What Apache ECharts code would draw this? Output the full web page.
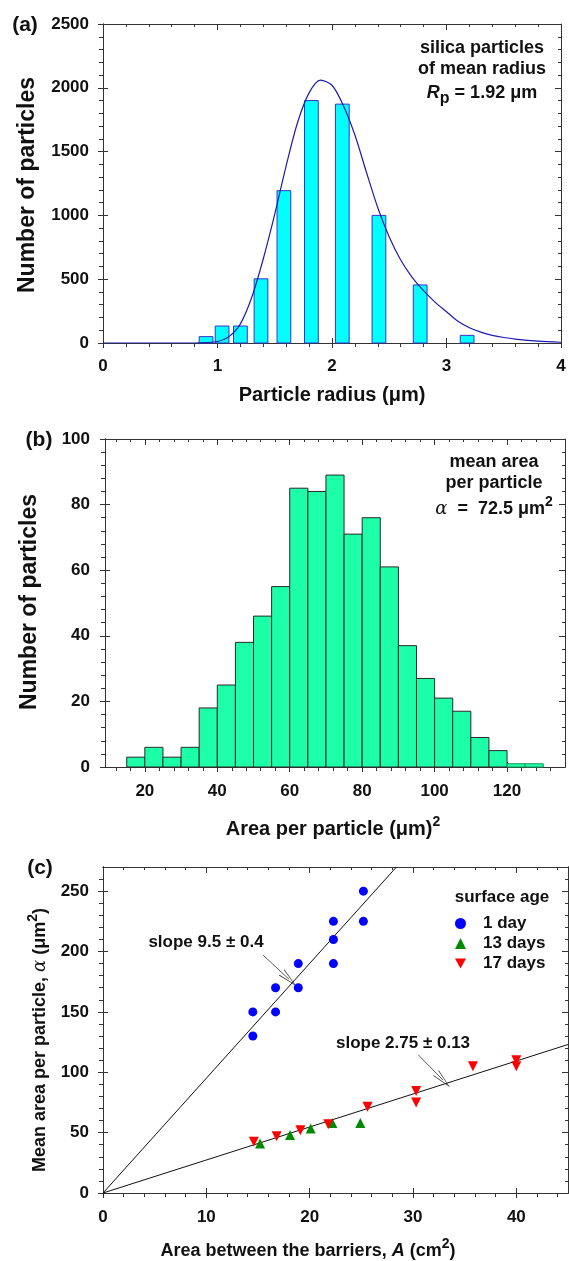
<!DOCTYPE html>
<html>
<head>
<meta charset="utf-8">
<script src="https://cdn.jsdelivr.net/npm/echarts@6/dist/echarts.min.js"></script>
<style>
html, body { margin: 0; padding: 0; background: #fff; }
#chart { width: 569px; height: 1261px; }
</style>
</head>
<body>
<div id="chart"></div>
<script>
// (a) particle radius histogram + fitted curve
var radiusCenters = [0.90, 1.04, 1.20, 1.38, 1.58, 1.82, 2.09, 2.41, 2.77, 3.18];
var radiusCounts = [50, 133, 133, 503, 1194, 1900, 1872, 1000, 455, 60];
var fitRadius = [0, 0.8, 0.9, 1.0, 1.1, 1.2, 1.3, 1.4, 1.5, 1.6, 1.7, 1.8, 1.9, 2.0, 2.1, 2.2, 2.3, 2.4, 2.5, 2.6,
                 2.7, 2.8, 2.9, 3.0, 3.1, 3.2, 3.3, 3.4, 3.5, 3.6, 3.8, 4.0];
var fitCounts = [0, 0, 3, 12, 50, 150, 360, 660, 1010, 1390, 1730, 1960, 2060, 2020, 1860, 1630, 1340, 1060, 830, 650,
                 515, 410, 320, 245, 170, 120, 85, 60, 43, 31, 15, 6];

// (b) area per particle histogram (bins 5 wide)
var areaBinStart = [15, 20, 25, 30, 35, 40, 45, 50, 55, 60, 65, 70, 75, 80, 85, 90, 95, 100, 105, 110, 115, 120, 125];
var areaCounts = [3, 6, 3, 6, 18, 25, 38, 46, 55, 85, 84, 89, 71, 76, 61, 37, 27, 21, 17, 9, 5, 1, 1];
var areaTicks = [20, 40, 60, 80, 100, 120];
var areaMinorTicks = [12, 16, 24, 28, 32, 36, 44, 48, 52, 56, 64, 68, 72, 76, 84, 88, 92, 96, 104, 108, 112, 116, 124, 128, 132];

// (c) mean area vs barrier area
var day1Area = [14.5, 14.5, 16.7, 16.7, 18.9, 18.9, 22.3, 22.3, 22.3, 25.2, 25.2];
var day1Alpha = [150, 130, 170, 150, 190, 170, 225, 210, 190, 250, 225];
var day13Area = [15.2, 18.1, 20.1, 22.2, 24.9];
var day13Alpha = [41, 48, 53.5, 58, 58];
var day17Area = [14.6, 16.8, 19.1, 21.8, 25.6, 30.3, 30.3, 35.8, 40.0, 40.0];
var day17Alpha = [42.5, 47, 52, 57, 71.5, 84.5, 75, 105, 110, 105];
var fit1Area = [0, 28.4], fit1Alpha = [0, 270];
var fit2Area = [0, 45], fit2Alpha = [0, 123];
var barrierTicks = [0, 10, 20, 30, 40];
var barrierMinorTicks = [2, 4, 6, 8, 12, 14, 16, 18, 22, 24, 26, 28, 32, 34, 36, 38, 42, 44];
var alphaTicks = [0, 50, 100, 150, 200, 250];
var alphaMinorTicks = [10, 20, 30, 40, 60, 70, 80, 90, 110, 120, 130, 140, 160, 170, 180, 190, 210, 220, 230, 240, 260];

var FONT = '"Liberation Sans", Arial, Helvetica, sans-serif';
var AX = '#333';
var TICK = { color: '#333', width: 1 };
var xAxes = [], yAxes = [];

function zip(a, b) {
    return a.map(function (v, i) { return [v, b[i]]; });
}

// main axis (labels, ticks crossing the line) + mirrored axis on the other side
function addFrame(list, gi, dim, c) {
    var first = list.length;
    var pos = dim === 'x' ? ['bottom', 'top'] : ['left', 'right'];
    function base(p) {
        var a = {
            gridIndex: gi, type: 'value', position: p, min: c.min, max: c.max,
            splitLine: { show: false },
            axisLine: { onZero: false, lineStyle: { color: AX, width: 1 } },
            axisLabel: { show: false }, minorTick: { show: false }
        };
        if (c.interval) a.interval = c.interval;
        return a;
    }
    function tick(inside, len, values) {
        var t = { show: true, inside: inside, length: len, lineStyle: TICK };
        if (values) t.customValues = values;
        return t;
    }
    var main = base(pos[0]);
    main.axisLabel = { show: true, color: '#111', fontFamily: FONT, fontWeight: 'bold', fontSize: 17,
        margin: c.margin, formatter: function (v) { return String(v); } };
    if (c.labels) main.axisLabel.customValues = c.labels;
    main.axisTick = tick(false, 5, c.ticks);
    if (c.minor) main.minorTick = { show: true, splitNumber: c.minor, length: 4, lineStyle: TICK };
    list.push(main);
    var cross = base(pos[0]);
    cross.axisTick = tick(true, 5, c.ticks);
    list.push(cross);
    var mirror = base(pos[1]);
    mirror.axisTick = tick(true, 6, c.ticks);
    if (c.minor) mirror.minorTick = { show: true, splitNumber: c.minor, length: 3, lineStyle: TICK };
    list.push(mirror);
    if (c.minorTicks) {
        var mb = base(pos[0]);
        mb.axisTick = tick(false, 4, c.minorTicks);
        list.push(mb);
        var mt = base(pos[1]);
        mt.axisTick = tick(true, 3, c.minorTicks);
        list.push(mt);
    }
    return first;
}

var xa = addFrame(xAxes, 0, 'x', { min: 0, max: 4, interval: 1, minor: 5, margin: 15 });
var ya = addFrame(yAxes, 0, 'y', { min: 0, max: 2500, interval: 500, minor: 5, margin: 14 });
var xb = addFrame(xAxes, 1, 'x', { min: 9, max: 136, labels: areaTicks, ticks: areaTicks, minorTicks: areaMinorTicks, margin: 16 });
var yb = addFrame(yAxes, 1, 'y', { min: 0, max: 100, interval: 20, minor: 5, margin: 15 });
var xc = addFrame(xAxes, 2, 'x', { min: 0, max: 45, labels: barrierTicks, ticks: barrierTicks, minorTicks: barrierMinorTicks, margin: 16 });
var yc = addFrame(yAxes, 2, 'y', { min: 0, max: 270, labels: alphaTicks, ticks: alphaTicks, minorTicks: alphaMinorTicks, margin: 14 });

function barRenderer(halfWidth, fill, stroke) {
    return function (params, api) {
        var x = api.value(0), y = api.value(1);
        var p0 = api.coord([x - halfWidth, y]);
        var p1 = api.coord([x + halfWidth, 0]);
        return {
            type: 'rect',
            shape: { x: p0[0], y: p0[1], width: p1[0] - p0[0], height: p1[1] - p0[1] },
            style: { fill: fill, stroke: stroke, lineWidth: 1 }
        };
    };
}

var RICH = {
    it: { fontFamily: FONT, fontStyle: 'italic', fontWeight: 'bold', fontSize: 18 },
    al: { fontFamily: '"DejaVu Serif", serif', fontStyle: 'italic', fontWeight: 'normal', fontSize: 18 },
    sup: { fontFamily: FONT, fontWeight: 'bold', fontSize: 14, lineHeight: 13, verticalAlign: 'top' },
    sub: { fontFamily: FONT, fontWeight: 'bold', fontSize: 16, lineHeight: 18, verticalAlign: 'bottom' }
};

function txt(x, y, text, size, extra) {
    var el = {
        type: 'text', x: x, y: y, z: 100,
        style: {
            text: text, fill: '#111', fontFamily: FONT, fontWeight: 'bold', fontSize: size,
            lineHeight: 28, rich: RICH,
            align: 'center', verticalAlign: 'middle', textAlign: 'center', textVerticalAlign: 'middle'
        }
    };
    if (extra) for (var k in extra) el[k] = extra[k];
    return el;
}

// open, narrow arrow head like the original annotation arrows
var arrowLine = {
    silent: true,
    symbol: ['none', 'path://M5,0 L10,20 L9,20 L5,3 L1,20 L0,20 Z'],
    symbolSize: [8, 20],
    label: { show: false },
    lineStyle: { color: '#333', width: 0.8, type: 'solid' }
};

var chart = echarts.init(document.getElementById('chart'));
var option = {
    backgroundColor: '#fff',
    animation: false,
    grid: [
        { left: 103, top: 24, width: 458, height: 319, containLabel: false, outerBoundsMode: 'none' },
        { left: 105, top: 439, width: 460, height: 328, containLabel: false, outerBoundsMode: 'none' },
        { left: 103, top: 867, width: 465, height: 326, containLabel: false, outerBoundsMode: 'none' }
    ],
    xAxis: xAxes,
    yAxis: yAxes,
    legend: {
        data: [
            { name: '1 day' },
            { name: '13 days' },
            { name: '17 days', icon: 'path://M0,0 L10,0 L5,9 Z' }
        ],
        orient: 'vertical', left: 450, top: 910,
        itemWidth: 11, itemHeight: 11, itemGap: 3,
        selectedMode: false,
        textStyle: { fontFamily: FONT, fontWeight: 'bold', fontSize: 17, color: '#111', padding: [0, 0, 0, 12] }
    },
    graphic: [
        txt(25, 25, '(a)', 21),
        txt(482, 48, 'silica particles', 18),
        txt(482, 69, 'of mean radius', 18),
        txt(482, 93, '{it|R}{sub|p} = 1.92 μm', 18),
        txt(28, 185, 'Number of particles', 23, { rotation: Math.PI / 2 }),
        txt(332, 395, 'Particle radius (μm)', 20),

        txt(39, 440, '(b)', 21),
        txt(494, 462, 'mean area', 18),
        txt(494, 483, 'per particle', 18),
        txt(494, 509, '{al|α}  =  72.5 μm{sup|2}', 18),
        txt(30, 602, 'Number of particles', 23, { rotation: Math.PI / 2 }),
        txt(333, 829, 'Area per particle (μm){sup|2}', 20),

        txt(40, 868, '(c)', 21),
        txt(502, 897, 'surface age', 17),
        txt(206, 942, 'slope 9.5 ± 0.4', 17),
        txt(403, 1043, 'slope 2.75 ± 0.13', 17),
        txt(40, 1040, 'Mean area per particle, {al|α} (μm{sup|2})', 18, { rotation: Math.PI / 2 }),
        txt(308, 1251, 'Area between the barriers, {it|A} (cm{sup|2})', 18)
    ],
    series: [
        {
            type: 'custom', name: 'radius bars', xAxisIndex: xa, yAxisIndex: ya,
            renderItem: barRenderer(0.06, '#00ffff', '#3535c8'),
            encode: { x: 0, y: 1 },
            data: zip(radiusCenters, radiusCounts), z: 2
        },
        {
            type: 'line', name: 'radius fit', xAxisIndex: xa, yAxisIndex: ya,
            data: zip(fitRadius, fitCounts), smooth: 0.3,
            showSymbol: false, symbol: 'none',
            lineStyle: { color: '#1c1cae', width: 1.2 }, z: 3
        },
        {
            type: 'custom', name: 'area bars', xAxisIndex: xb, yAxisIndex: yb,
            renderItem: function (params, api) {
                var x0 = api.value(0), y = api.value(1);
                var p0 = api.coord([x0, y]);
                var p1 = api.coord([x0 + 5, 0]);
                return {
                    type: 'rect',
                    shape: { x: p0[0], y: p0[1], width: p1[0] - p0[0], height: p1[1] - p0[1] },
                    style: { fill: '#1cffa8', stroke: y > 2 ? '#2a2a2a' : '#1a9a60', lineWidth: 1 }
                };
            },
            encode: { x: 0, y: 1 },
            data: zip(areaBinStart, areaCounts), z: 2
        },
        {
            type: 'line', name: 'fit 1', xAxisIndex: xc, yAxisIndex: yc,
            data: zip(fit1Area, fit1Alpha), symbol: 'none',
            lineStyle: { color: '#111', width: 1 }, z: 2,
            markLine: Object.assign({ data: [[{ coord: [15.5, 197] }, { coord: [18.0, 177] }]] }, arrowLine)
        },
        {
            type: 'line', name: 'fit 2', xAxisIndex: xc, yAxisIndex: yc,
            data: zip(fit2Area, fit2Alpha), symbol: 'none',
            lineStyle: { color: '#111', width: 1 }, z: 2,
            markLine: Object.assign({ data: [[{ coord: [30.5, 114.5] }, { coord: [32.9, 93.5] }]] }, arrowLine)
        },
        {
            type: 'scatter', name: '1 day', xAxisIndex: xc, yAxisIndex: yc,
            data: zip(day1Area, day1Alpha), symbol: 'circle', symbolSize: 9,
            itemStyle: { color: '#0000ff', opacity: 1 }, z: 5
        },
        {
            type: 'scatter', name: '13 days', xAxisIndex: xc, yAxisIndex: yc,
            data: zip(day13Area, day13Alpha), symbol: 'triangle', symbolSize: 10,
            itemStyle: { color: '#008a00', opacity: 1 }, z: 5
        },
        {
            type: 'scatter', name: '17 days', xAxisIndex: xc, yAxisIndex: yc,
            data: zip(day17Area, day17Alpha), symbol: 'triangle', symbolRotate: 180, symbolSize: 10,
            itemStyle: { color: '#ff0000', opacity: 1 }, z: 6
        }
    ]
};
chart.setOption(option);
window.addEventListener('resize', function () {
    chart.resize();
});
</script>
</body>
</html>
